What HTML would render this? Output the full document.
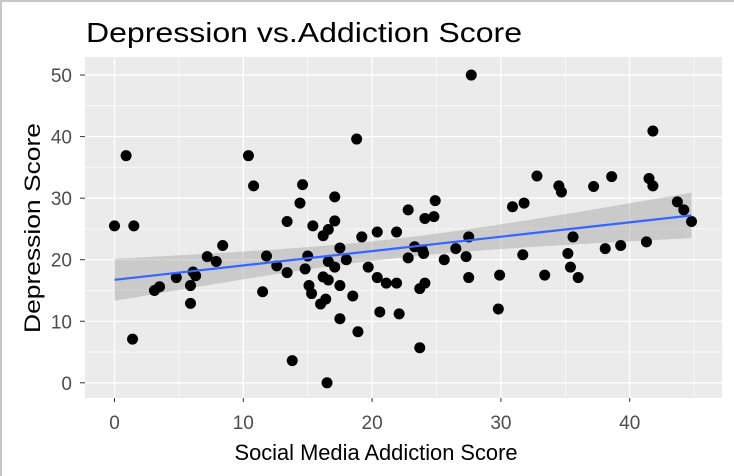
<!DOCTYPE html>
<html><head><meta charset="utf-8"><style>
html,body{margin:0;padding:0;background:#fff}
#wrap{position:relative;width:734px;height:476px;overflow:hidden;box-sizing:border-box;border-left:2px solid #c8c8c8;border-top:2px solid #c8c8c8}
svg{position:absolute;left:-2px;top:-2px}
text{font-family:"Liberation Sans",Arial,sans-serif}
</style></head><body>
<div id="wrap">
<svg id="chart" width="734" height="476"></svg>
</div>
<script>
const xTicks=[0,10,20,30,40];
const yTicks=[0,10,20,30,40,50];
const xVals=[0.9,0,1.5,1.4,3.1,3.5,4.8,6.1,6.3,5.9,5.9,7.2,7.9,8.4,10.4,10.8,11.5,11.8,12.6,13.4,13.4,13.8,14.6,14.4,14.8,15,15.4,15.1,15.3,16,16.4,16.5,16.2,16.6,16.2,16.6,17.1,17.1,17.5,18,16.6,17.1,17.5,17.5,18.8,18.5,18.9,19.2,19.7,20.4,20.4,21.1,21.9,21.9,20.6,22.1,
27.7,41.8,32.8,38.6,34.5,34.7,37.2,41.5,41.8,30.9,31.8,43.7,44.2,44.8,22.8,24.9,24.1,24.8,27.5,35.6,41.3,39.3,38.1,23.3,23.9,22.8,24,26.5,25.6,27.3,31.7,35.2,35.4,36,27.5,29.9,33.4,23.7,24.1,29.8,23.7];
const yVals=[36.9,25.5,25.5,7.1,15,15.6,17.1,18,17.4,15.8,12.9,20.5,19.7,22.3,36.9,32,14.8,20.6,19,17.9,26.2,3.6,32.2,29.2,18.5,20.6,25.5,15.8,14.5,12.8,13.6,0,17.2,16.7,23.9,24.9,26.3,30.2,21.9,20,19.7,18.8,15.8,10.4,39.6,14.1,8.3,23.7,18.8,24.5,17.1,16.2,24.5,16.2,11.5,11.2,
50,40.9,33.6,33.5,32,31,31.9,33.2,32,28.6,29.2,29.4,28.1,26.2,28.1,29.6,26.7,27,23.7,23.7,22.9,22.3,21.8,22.1,21.6,20.3,21,21.8,20,20.5,20.8,21,18.8,17.1,17.1,17.5,17.5,15.3,16.2,12,5.7];

const L=85,R=722,T=57,B=398;
const X0=114.5,XS=12.88,Y0=382.8,YS=6.155;
const sx=v=>X0+v*XS, sy=v=>Y0-v*YS;
const svg=document.getElementById('chart');
const NS='http://www.w3.org/2000/svg';
function mk(tag,attrs,parent){const e=document.createElementNS(NS,tag);for(const k in attrs)e.setAttribute(k,attrs[k]);(parent||svg).appendChild(e);return e;}

let e=mk('rect',{x:L,y:T,width:R-L,height:B-T,fill:'#ebebeb'});


for(let i=0;i<xTicks.length;i++){const v=xTicks[i]+5;if(sx(v)<R){e=mk('line',{x1:sx(v),x2:sx(v),y1:T,y2:B,stroke:'#fff','stroke-width':0.6});

}}
for(let i=0;i<yTicks.length;i++){const v=yTicks[i]+5;if(sy(v)>T){e=mk('line',{x1:L,x2:R,y1:sy(v),y2:sy(v),stroke:'#fff','stroke-width':0.6});

}}
xTicks.forEach(v=>{e=mk('line',{x1:sx(v),x2:sx(v),y1:T,y2:B,stroke:'#fff','stroke-width':1.3});


e=mk('line',{x1:sx(v),x2:sx(v),y1:B,y2:B+4,stroke:'#333','stroke-width':1});


e=mk('text',{x:sx(v),y:429,'text-anchor':'middle','font-size':19,fill:'#4d4d4d'});e.textContent=v;

});
yTicks.forEach(v=>{e=mk('line',{x1:L,x2:R,y1:sy(v),y2:sy(v),stroke:'#fff','stroke-width':1.3});


e=mk('line',{x1:L-5,x2:L,y1:sy(v),y2:sy(v),stroke:'#333','stroke-width':1});


e=mk('text',{x:72,y:sy(v)+7,'text-anchor':'end','font-size':19,fill:'#4d4d4d'});e.textContent=v;

});

const n=xVals.length;let mx=0,my=0;for(let i=0;i<n;i++){mx+=xVals[i];my+=yVals[i];}mx/=n;my/=n;
let sxx=0,sxy=0;for(let i=0;i<n;i++){sxx+=(xVals[i]-mx)**2;sxy+=(xVals[i]-mx)*(yVals[i]-my);}
const b=sxy/sxx,a=my-b*mx;let sse=0;for(let i=0;i<n;i++)sse+=(yVals[i]-a-b*xVals[i])**2;
const s=Math.sqrt(sse/(n-2));
const xmin=Math.min(...xVals),xmax=Math.max(...xVals);
let up=[],lo=[];
for(let k=0;k<=80;k++){const x=xmin+(xmax-xmin)*k/80;const f=a+b*x;const se=s*Math.sqrt(1/n+(x-mx)**2/sxx)*1.985;
up.push(sx(x)+','+sy(f+se));lo.unshift(sx(x)+','+sy(f-se));}
e=mk('polygon',{points:up.concat(lo).join(' '),fill:'#999','fill-opacity':0.4});


for(let i=0;i<n;i++){e=mk('circle',{cx:sx(xVals[i]),cy:sy(yVals[i]),r:5.5,fill:'#000'});

}
e=mk('line',{x1:sx(xmin),y1:sy(a+b*xmin),x2:sx(xmax),y2:sy(a+b*xmax),stroke:'#3366ff','stroke-width':2.2});



e=mk('text',{x:86,y:42,'font-size':28,fill:'#000',textLength:436,lengthAdjust:'spacingAndGlyphs'});e.textContent='Depression vs.Addiction Score';


e=mk('text',{x:376,y:460,'text-anchor':'middle','font-size':22,fill:'#000',textLength:283,lengthAdjust:'spacingAndGlyphs'});e.textContent='Social Media Addiction Score';


e=mk('text',{x:0,y:0,'text-anchor':'middle','font-size':22,fill:'#000',textLength:210,lengthAdjust:'spacingAndGlyphs',transform:'translate(40,228) rotate(-90)'});e.textContent='Depression Score';


</script>
</body></html>
